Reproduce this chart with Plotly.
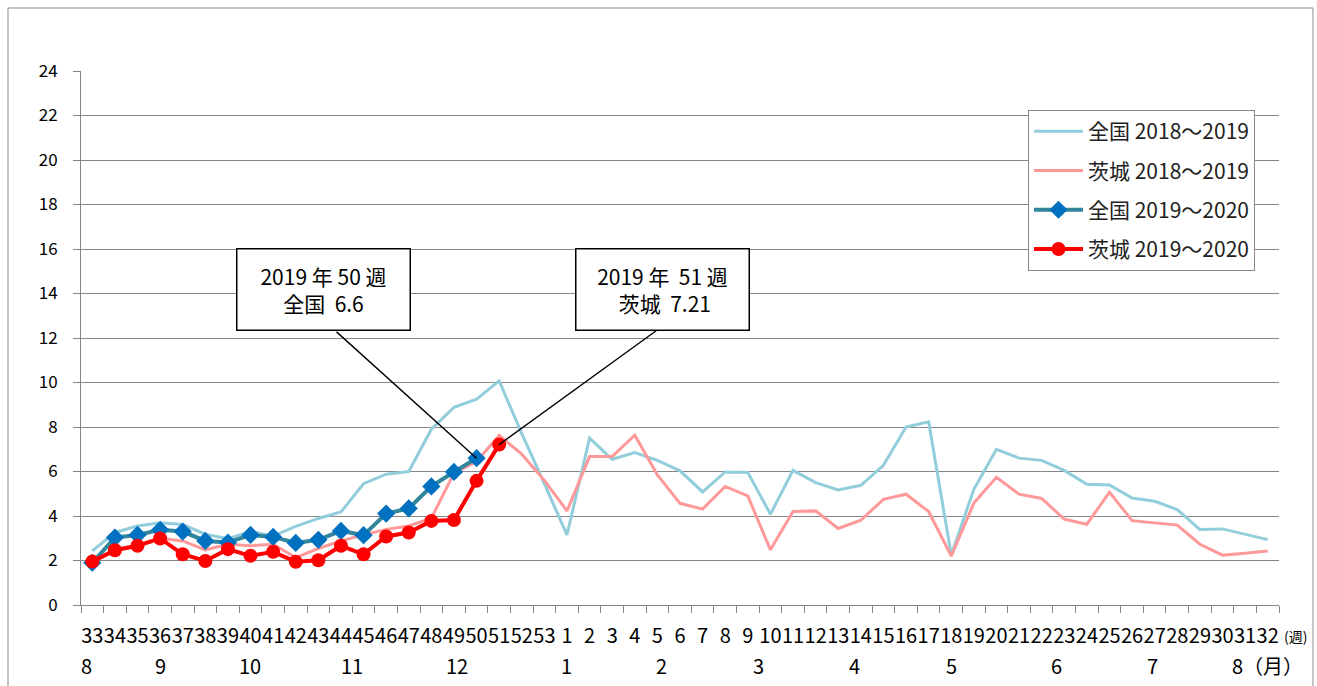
import plotly.graph_objects as go

weeks = [str(w) for w in range(33, 54)] + [str(w) for w in range(1, 33)]

national_1819 = [2.43, 3.26, 3.55, 3.70, 3.62, 3.18, 2.98, 3.30, 3.10, 3.53, 3.89, 4.18, 5.45, 5.88, 6.00,
                 7.90, 8.88, 9.25, 10.07, 7.70, 5.45,
                 3.15, 7.50, 6.55, 6.85, 6.50, 6.03, 5.08, 5.98, 5.96, 4.08, 6.05, 5.50, 5.17, 5.38, 6.28, 8.00,
                 8.23, 2.25, 5.20, 7.00, 6.60, 6.50, 6.05, 5.43, 5.39, 4.81, 4.66, 4.29, 3.39, 3.42, 3.17, 2.94]
ibaraki_1819 = [1.95, 2.50, 2.70, 3.00, 2.88, 2.48, 2.73, 2.66, 2.73, 2.13, 2.54, 2.88, 3.15, 3.40, 3.55,
                3.90, 5.93, 6.45, 7.62, 6.78, 5.60,
                4.23, 6.67, 6.67, 7.63, 5.85, 4.57, 4.31, 5.33, 4.90, 2.48, 4.20, 4.23, 3.44, 3.81, 4.75, 4.98,
                4.20, 2.20, 4.58, 5.74, 4.98, 4.79, 3.86, 3.63, 5.07, 3.79, 3.68, 3.59, 2.73, 2.24, 2.33, 2.43]
national_1920 = [1.90, 3.03, 3.15, 3.38, 3.30, 2.88, 2.81, 3.15, 3.06, 2.79, 2.93, 3.33, 3.14, 4.11, 4.34,
                 5.33, 5.98, 6.60]
ibaraki_1920 = [1.95, 2.46, 2.66, 2.99, 2.28, 1.98, 2.51, 2.21, 2.39, 1.94, 2.01, 2.66, 2.28, 3.08, 3.26,
                3.78, 3.82, 5.58, 7.21]

series_names = ["全国 2018～2019", "茨城 2018～2019", "全国 2019～2020", "茨城 2019～2020"]

month_labels = ["8", "9", "10", "11", "12", "1", "2", "3", "4", "5", "6", "7", "8（月）"]
month_anchor = ["33", "36", "40", "44", "49", "1", "5", "9", "14", "18", "23", "27", "32"]
month_shift = [-6, 0, -1, 11, 3, 0, 4, 11, -6, 0, -8, -2, 0]

callout_weeks = ["50", "51"]
callout_values = [national_1920[17], ibaraki_1920[18]]
callout_texts = ["2019 年 50 週<br>全国  6.6", "2019 年  51 週<br> 茨城  7.21"]

JP = "Noto Sans CJK JP"
L, R = 81, 38
PW = 1317 - L - R

fig = go.Figure()
fig.add_trace(go.Scatter(x=weeks, y=national_1819, mode="lines", name=series_names[0],
                         line=dict(color="#92CDDC", width=3), legendgroup="a"))
fig.add_trace(go.Scatter(x=weeks, y=ibaraki_1819, mode="lines", name=series_names[1],
                         line=dict(color="#FF9999", width=3), legendgroup="b"))
fig.add_trace(go.Scatter(x=weeks[:len(national_1920)], y=national_1920, mode="lines+markers",
                         name=series_names[2], legendgroup="c",
                         line=dict(color="#31859C", width=4),
                         marker=dict(symbol="diamond", size=14, color="#0070C0")))
fig.add_trace(go.Scatter(x=weeks[:len(ibaraki_1920)], y=ibaraki_1920, mode="lines+markers",
                         name=series_names[3], legendgroup="d",
                         line=dict(color="#FF0000", width=4),
                         marker=dict(symbol="circle", size=14, color="#FF0000")))

annotations = []
# leader lines (drawn first so the boxes cover their tails)
arrow_offsets = [(-143, -129), (160, -116)]
for wk, val, (ax, ay) in zip(callout_weeks, callout_values, arrow_offsets):
    annotations.append(dict(x=weeks.index(wk), y=val, xref="x", yref="y", text=" ", showarrow=True,
                            arrowhead=0, arrowwidth=1.4, arrowcolor="black", ax=ax, ay=ay,
                            standoff=0))
box_px = [323.5, 662]
for bpx, txt in zip(box_px, callout_texts):
    annotations.append(dict(x=(bpx - L) / PW, y=0.5908, xref="paper", yref="paper", xanchor="center",
                            yanchor="middle", text=txt, showarrow=False,
                            width=172, height=80, borderpad=0,
                            bgcolor="white", bordercolor="black", borderwidth=1.5,
                            font=dict(family=JP, size=21, color="black"), align="center"))
for lab, anc, sh in zip(month_labels, month_anchor, month_shift):
    annotations.append(dict(x=weeks.index(anc), y=0, xref="x", yref="paper", xanchor="center",
                            yanchor="middle", yshift=-60, xshift=sh, text=lab, showarrow=False,
                            font=dict(family=JP, size=20, color="black")))
annotations.append(dict(x=1.0, y=0, xref="paper", yref="paper", xanchor="left", yanchor="middle",
                        yshift=-31, xshift=3, text="(週)", showarrow=False,
                        font=dict(family=JP, size=14, color="black")))

fig.update_layout(
    width=1317, height=686,
    margin=dict(l=L, r=R, t=71, b=81),
    paper_bgcolor="white", plot_bgcolor="white",
    showlegend=True,
    legend=dict(x=(1028 - L) / PW, y=0.927, xanchor="left", yanchor="top",
                bordercolor="#888888", borderwidth=1, bgcolor="white",
                font=dict(family=JP, size=21, color="#222222"),
                tracegroupgap=9, itemwidth=49),
    annotations=annotations,
    shapes=[dict(type="rect", xref="paper", yref="paper",
                 x0=(8 - L) / PW, x1=(1313 - L) / PW,
                 y0=(605 - 700) / 534, y1=(605 - 8) / 534,
                 line=dict(color="#8c8c8c", width=1), fillcolor="rgba(0,0,0,0)", layer="below")],
)
fig.update_xaxes(type="category", categoryorder="array", categoryarray=weeks,
                 range=[-0.5, 52.5], tickmode="array", tickvals=weeks, ticktext=weeks,
                 tickangle=0, ticks="outside", tickson="boundaries", ticklen=7,
                 tickcolor="#868686", showline=True, linecolor="#868686", linewidth=1,
                 showgrid=False, ticklabelstandoff=13,
                 tickfont=dict(family=JP, size=20, color="black"))
fig.update_yaxes(range=[0, 24], dtick=2, tick0=0, showgrid=True, gridcolor="#868686", gridwidth=1,
                 ticks="outside", ticklen=7, tickcolor="#868686", showline=True, linecolor="#868686",
                 zeroline=False, ticklabelstandoff=12,
                 tickfont=dict(family=JP, size=17, color="black"))

fig.write_html("out.html", config={"displayModeBar": False},
               post_script="document.body.style.margin='0';document.body.style.overflow='hidden';")
